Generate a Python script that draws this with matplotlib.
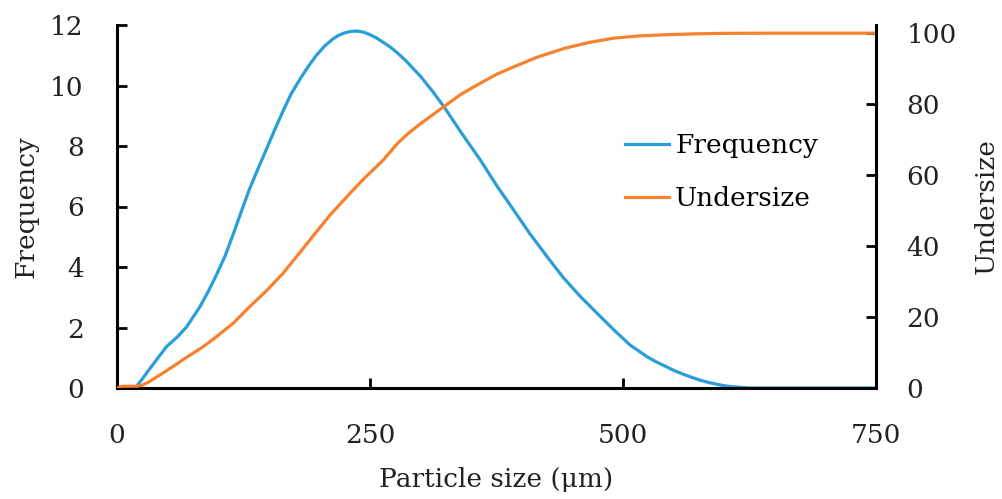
import matplotlib.pyplot as plt

FONT_SIZE = 19
plt.rcParams.update({'font.size': FONT_SIZE,
                     'font.family': ['DejaVu Serif']})

# Frequency curve (left axis)
freq_x = [0, 5, 18, 25, 32, 39, 49, 60, 69, 82, 90, 98, 107, 115, 123, 131, 140,
          148, 156, 164, 172, 181, 189, 197, 205, 213, 219, 225, 231, 237, 244,
          250, 256, 263, 270, 277, 286, 300, 312, 323, 340, 359, 375, 392, 408,
          425, 441, 458, 475, 491, 507, 524, 533, 543, 551, 560, 568, 576, 585,
          593, 601, 609, 617, 626, 650, 700, 750]
freq_y = [0.05, 0, 0, 0.3, 0.62, 0.93, 1.37, 1.7, 2.03, 2.69, 3.18, 3.72, 4.38,
          5.1, 5.85, 6.58, 7.3, 7.92, 8.55, 9.15, 9.72, 10.22, 10.63, 11.0, 11.3,
          11.53, 11.66, 11.74, 11.79, 11.8, 11.76, 11.68, 11.58, 11.43, 11.27,
          11.08, 10.8, 10.3, 9.8, 9.3, 8.45, 7.54, 6.7, 5.88, 5.1, 4.34, 3.65,
          3.02, 2.45, 1.92, 1.42, 1.03, 0.86, 0.7, 0.57, 0.45, 0.35, 0.26, 0.18,
          0.12, 0.07, 0.04, 0.02, 0, 0, 0, 0]

# Undersize curve (right axis)
under_x = [0, 5, 20, 25, 32, 39, 47, 55, 69, 85, 98, 115, 131, 148, 164, 181, 197,
           211, 230, 244, 263, 277, 288, 300, 312, 323, 340, 359, 375, 392, 415,
           442, 465, 491, 515, 537, 570, 600, 650, 700, 750]
under_y = [0, 0.5, 0.5, 0.8, 1.8, 3.1, 4.5, 6.0, 8.7, 11.6, 14.4, 18.3, 22.9,
           27.5, 32.3, 38.3, 44.0, 48.9, 54.8, 59.0, 64.2, 68.9, 71.8, 74.5, 77.0,
           79.3, 82.8, 85.9, 88.4, 90.5, 93.2, 95.7, 97.3, 98.6, 99.2, 99.5, 99.8,
           99.95, 100, 100, 100]

x_ticks = [0, 250, 500, 750]
left_ticks = [0, 2, 4, 6, 8, 10, 12]
right_ticks = [0, 20, 40, 60, 80, 100]

BLUE = '#2a9ed8'
ORANGE = '#f8812e'
TEXT = '#222222'

fig = plt.figure(figsize=(10.03, 4.99), dpi=100)
ax = fig.add_axes([117 / 1003, 1 - 388 / 499, (876 - 117) / 1003, (388 - 25) / 499])
ax2 = ax.twinx()

l1, = ax.plot(freq_x, freq_y, color=BLUE, lw=2.3, label='Frequency')
l2, = ax2.plot(under_x, under_y, color=ORANGE, lw=2.3, label='Undersize')

ax.set_xlim(0, 750)
ax.set_ylim(0, 12)
ax2.set_ylim(0, 102.3)
ax.set_xticks(x_ticks)
ax.set_yticks(left_ticks)
ax2.set_yticks(right_ticks)

for a in (ax, ax2):
    a.spines['top'].set_visible(False)
    for s in a.spines.values():
        s.set_linewidth(2.2)
        s.set_color('black')
ax.spines['right'].set_visible(False)
ax2.spines['left'].set_visible(False)
ax2.spines['bottom'].set_visible(False)

ax.tick_params(axis='x', direction='in', length=7, width=2, pad=25,
               color='black', labelcolor=TEXT)
ax.tick_params(axis='y', direction='in', length=7, width=2, pad=24,
               color='black', labelcolor=TEXT)
ax2.tick_params(axis='y', direction='in', length=7, width=2, pad=22,
                color='black', labelcolor=TEXT)

ax.set_xlabel('Particle size (μm)', color=TEXT, labelpad=14)
ax.set_ylabel('Frequency', color=TEXT, labelpad=8)
ax2.set_ylabel('Undersize', color=TEXT, labelpad=12)

fig.legend(handles=[l1, l2], loc='center left', bbox_to_anchor=(625 / 1003, 1 - 172 / 499),
           frameon=False, handlelength=1.65, handletextpad=0.25, labelspacing=1.05,
           borderpad=0, borderaxespad=0)

fig.savefig('out.png', dpi=100)
